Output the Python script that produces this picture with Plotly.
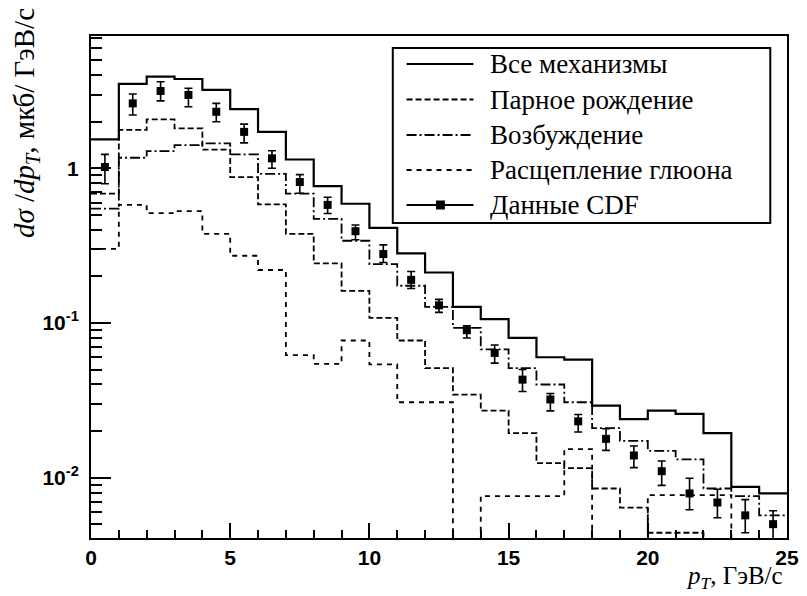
import plotly.graph_objects as go

# ---- data: b-quark pT spectrum, 1 GeV/c bins from 0 to 25 ----
bin_edges = list(range(0, 26))

total = [1.54, 3.51, 3.92, 3.78, 3.21, 2.41, 1.72, 1.14, 0.767, 0.59,
         0.412, 0.282, 0.212, 0.127, 0.106, 0.080, 0.060, 0.058, 0.0292, 0.0239,
         0.0271, 0.0258, 0.0194, 0.0087, 0.0079]
pair_production = [0.685, 1.77, 2.07, 1.81, 1.32, 0.878, 0.584, 0.377, 0.243, 0.161,
                   0.108, 0.077, 0.051, 0.0344, 0.0271, 0.0194, 0.0124, 0.0115, 0.0085, 0.0064,
                   0.0044, 0.0044, 0.0, 0.0, 0.0]
excitation = [0.548, 1.17, 1.29, 1.41, 1.45, 1.23, 0.92, 0.685, 0.471, 0.34,
              0.24, 0.174, 0.127, 0.093, 0.0675, 0.051, 0.040, 0.0307, 0.0209, 0.0173,
              0.0149, 0.0131, 0.0085, 0.0076, 0.0057]
gluon_splitting = [0.301, 0.58, 0.513, 0.528, 0.377, 0.272, 0.22, 0.062, 0.0544, 0.077,
                   0.054, 0.0307, 0.0307, 0.0, 0.0076, 0.0076, 0.0076, 0.0153, 0.0, 0.0,
                   0.0077, 0.0077, 0.0077, 0.0, 0.0]

cdf_pt = [0.5, 1.5, 2.5, 3.5, 4.5, 5.5, 6.5, 7.5, 8.5, 9.5, 10.5, 11.5, 12.5,
          13.5, 14.5, 15.5, 16.5, 17.5, 18.5, 19.5, 20.5, 21.5, 22.5, 23.5, 24.5]
cdf_val = [1.02, 2.63, 3.16, 2.98, 2.32, 1.72, 1.16, 0.815, 0.58, 0.392,
           0.279, 0.19, 0.130, 0.0897, 0.064, 0.043, 0.032, 0.0231, 0.0178, 0.0139,
           0.011, 0.0079, 0.0069, 0.0057, 0.0050]
cdf_err_plus = [0.21, 0.39, 0.47, 0.31, 0.31, 0.21, 0.14, 0.095, 0.07, 0.038,
                0.041, 0.025, 0.012, 0.0063, 0.008, 0.007, 0.003, 0.0025, 0.0029, 0.0021,
                0.0018, 0.002, 0.0015, 0.0015, 0.0011]
cdf_err_minus = [0.225, 0.42, 0.43, 0.48, 0.32, 0.26, 0.16, 0.125, 0.07, 0.047,
                 0.033, 0.023, 0.013, 0.0097, 0.009, 0.007, 0.005, 0.0034, 0.0028, 0.0023,
                 0.0021, 0.0017, 0.0014, 0.0013, 0.0010]

legend_labels = ["Все механизмы", "Парное рождение", "Возбуждение",
                 "Расщепление глюона", "Данные CDF"]

# ---- geometry of the canvas ----
W, H = 807, 596
L, R, T, B = 91, 8, 36, 58
PW, PH = W - L - R, H - T - B

SERIF = "Liberation Serif"
SANS = "Liberation Sans"

# empty bins are drawn at a level below the visible range so the step falls to the axis
FLOOR = 1e-6


def step(vals):
    y = [v if v > 0 else FLOOR for v in vals]
    return bin_edges, y + [y[-1]]


def px_x(px):
    return (px - L) / PW


def px_y(py):
    return (H - B - py) / PH


styles = [
    ("solid", 2.2),
    ("6px,3px", 1.8),
    ("10px,3px,2px,3px", 1.8),
    ("5px,5px", 1.8),
]

fig = go.Figure()

series = [total, pair_production, excitation, gluon_splitting]
for idx in (3, 2, 1, 0):
    xs, ys = step(series[idx])
    dash, width = styles[idx]
    fig.add_trace(go.Scatter(
        x=xs, y=ys, mode="lines", line_shape="hv",
        line=dict(color="black", width=width, dash=dash),
        showlegend=False, hoverinfo="skip",
    ))

fig.add_trace(go.Scatter(
    x=cdf_pt, y=cdf_val, mode="markers",
    marker=dict(symbol="square", size=8, color="black"),
    error_y=dict(type="data", array=cdf_err_plus, arrayminus=cdf_err_minus,
                 color="black", thickness=1.6, width=4),
    showlegend=False,
))

# ---- hand-drawn legend box ----
legend_rows = [64, 99.5, 135, 170, 205]
shapes = [dict(type="rect", xref="paper", yref="paper",
               x0=px_x(398), x1=px_x(782), y0=px_y(223), y1=px_y(48),
               line=dict(color="black", width=2), fillcolor="white", layer="above")]
annotations = []
for i, (label, row) in enumerate(zip(legend_labels, legend_rows)):
    dash, width = styles[i] if i < 4 else ("solid", 2.0)
    shapes.append(dict(type="line", xref="paper", yref="paper",
                       x0=px_x(412), x1=px_x(480), y0=px_y(row), y1=px_y(row),
                       line=dict(color="black", width=width, dash=dash), layer="above"))
    annotations.append(dict(xref="paper", yref="paper", x=px_x(495), y=px_y(row),
                            xanchor="left", yanchor="middle", showarrow=False,
                            text=label, font=dict(family=SERIF, size=27, color="black")))
shapes.append(dict(type="rect", xref="paper", yref="paper",
                   x0=px_x(442), x1=px_x(451), y0=px_y(legend_rows[4] + 4.5),
                   y1=px_y(legend_rows[4] - 4.5),
                   line=dict(color="black", width=0), fillcolor="black", layer="above"))

# ---- axis titles ----
annotations.append(dict(xref="paper", yref="paper", x=px_x(797), y=px_y(595),
                        xanchor="right", yanchor="bottom", showarrow=False,
                        text="<i>p<sub>T</sub></i>, ГэВ/с",
                        font=dict(family=SERIF, size=25, color="black")))
annotations.append(dict(xref="paper", yref="paper", x=px_x(25), y=px_y(6),
                        xanchor="center", yanchor="top", showarrow=False, textangle=-90,
                        text="<i>dσ</i> /<i>dp<sub>T</sub></i>, мкб/ ГэВ/с",
                        font=dict(family=SERIF, size=29, color="black")))

minor_y = [m * 10 ** e for e in (-3, -2, -1, 0) for m in range(2, 10)]

fig.update_layout(
    width=W, height=H,
    margin=dict(l=L, r=R, t=T, b=B),
    paper_bgcolor="white", plot_bgcolor="white",
    shapes=shapes, annotations=annotations,
    showlegend=False,
    xaxis=dict(
        range=[0, 25], tickmode="linear", tick0=0, dtick=5,
        showline=True, linecolor="black", linewidth=2, mirror=True,
        ticks="inside", ticklen=15, tickwidth=1.5, tickcolor="black",
        minor=dict(ticks="inside", ticklen=8, tickwidth=1.5, tickcolor="black",
                   dtick=1, showgrid=False),
        showgrid=False, zeroline=False,
        tickfont=dict(family=SANS, size=21, color="black", weight="bold"),
        ticklabelstandoff=0, ticklabeloverflow="allow",
    ),
    yaxis=dict(
        type="log", range=[-2.3906, 0.8555],
        tickmode="array", tickvals=[0.01, 0.1, 1],
        ticktext=["10<sup>-2</sup>", "10<sup>-1</sup>", "1"],
        showline=True, linecolor="black", linewidth=2, mirror=True,
        ticks="inside", ticklen=20, tickwidth=1.5, tickcolor="black",
        minor=dict(ticks="inside", ticklen=11, tickwidth=1.5, tickcolor="black",
                   tickvals=minor_y, showgrid=False),
        showgrid=False, zeroline=False,
        tickfont=dict(family=SANS, size=21, color="black", weight="bold"),
        ticklabelstandoff=6, ticklabeloverflow="allow",
    ),
)

fig.write_html("out.html")
